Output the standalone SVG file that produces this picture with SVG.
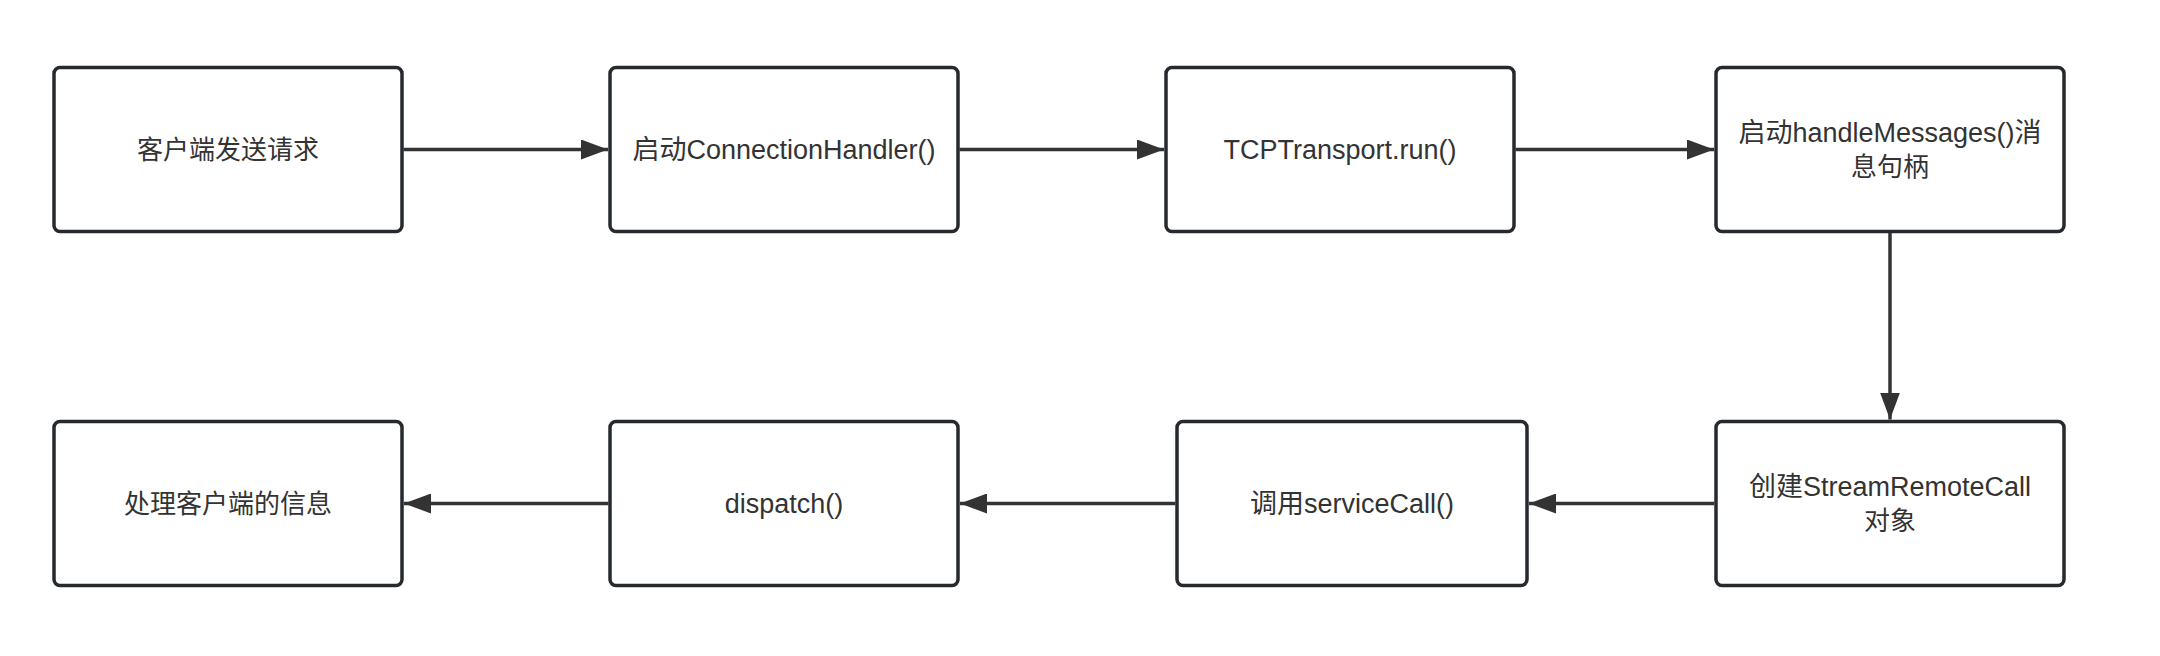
<svg xmlns="http://www.w3.org/2000/svg" width="2160" height="656" viewBox="0 0 2160 656">
  <style>
    .box { fill: #ffffff; stroke: #262a2f; stroke-width: 3.5; }
    .lbl { font-family: "Liberation Sans", "Noto Sans CJK SC", sans-serif; font-size: 27px; fill: #333333; text-anchor: middle; dominant-baseline: central; }
    .cjk { font-size: 26px; }
    .edge { stroke: #333333; stroke-width: 3.5; fill: none; }
  </style>
  <defs>
    <marker id="arrow" markerUnits="userSpaceOnUse" markerWidth="28" markerHeight="20" refX="27" refY="10" orient="auto">
      <path d="M0,0 L27,10 L0,20 Z" fill="#333333"/>
    </marker>
  </defs>
  <rect width="2160" height="656" fill="#ffffff"/>

  <g id="n1"><rect class="box" x="54" y="67.5" width="348" height="164" rx="6"/><text class="lbl cjk" x="228" y="149.5">客户端发送请求</text></g>
  <g id="n2"><rect class="box" x="610" y="67.5" width="348" height="164" rx="6"/><text class="lbl" x="784" y="149.5">启动ConnectionHandler()</text></g>
  <g id="n3"><rect class="box" x="1166" y="67.5" width="348" height="164" rx="6"/><text class="lbl" x="1340" y="149.5">TCPTransport.run()</text></g>
  <g id="n4"><rect class="box" x="1716" y="67.5" width="348" height="164" rx="6"/><text class="lbl" x="1890" y="132.5">启动handleMessages()消</text><text class="lbl cjk" x="1890" y="166.5">息句柄</text></g>
  <g id="n5"><rect class="box" x="1716" y="421.5" width="348" height="164" rx="6"/><text class="lbl" x="1890" y="487">创建StreamRemoteCall</text><text class="lbl cjk" x="1890" y="521">对象</text></g>
  <g id="n6"><rect class="box" x="1177" y="421.5" width="350" height="164" rx="6"/><text class="lbl" x="1352" y="503.5">调用serviceCall()</text></g>
  <g id="n7"><rect class="box" x="610" y="421.5" width="348" height="164" rx="6"/><text class="lbl" x="784" y="503.5">dispatch()</text></g>
  <g id="n8"><rect class="box" x="54" y="421.5" width="348" height="164" rx="6"/><text class="lbl cjk" x="228" y="503.5">处理客户端的信息</text></g>

  <g id="edges">
    <line class="edge" x1="403.5" y1="149.5" x2="608" y2="149.5" marker-end="url(#arrow)"/>
    <line class="edge" x1="959.5" y1="149.5" x2="1164" y2="149.5" marker-end="url(#arrow)"/>
    <line class="edge" x1="1515.5" y1="149.5" x2="1714" y2="149.5" marker-end="url(#arrow)"/>
    <line class="edge" x1="1890" y1="233" x2="1890" y2="419.5" marker-end="url(#arrow)"/>
    <line class="edge" x1="1714.5" y1="503.5" x2="1529" y2="503.5" marker-end="url(#arrow)"/>
    <line class="edge" x1="1175.5" y1="503.5" x2="960" y2="503.5" marker-end="url(#arrow)"/>
    <line class="edge" x1="608.5" y1="503.5" x2="404" y2="503.5" marker-end="url(#arrow)"/>
  </g>
</svg>
